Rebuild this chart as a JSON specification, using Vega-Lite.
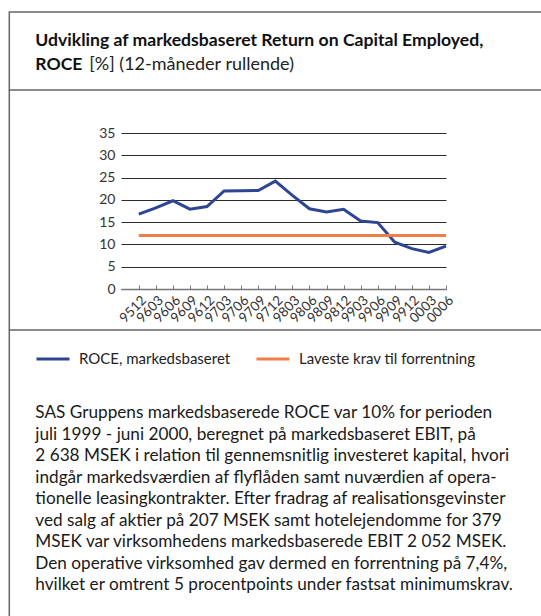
{
  "$schema": "https://vega.github.io/schema/vega-lite/v6.json",
  "padding": {"left": 8, "top": 11, "right": -18, "bottom": -5},
  "background": "white",
  "spacing": 0,
  "bounds": "flush",
  "center": true,
  "config": {
    "view": {"stroke": null},
    "font": "Lato"
  },
  "vconcat": [
    {
      "width": 548.4,
      "height": 78,
      "view": {"stroke": "#666666", "strokeWidth": 1.5},
      "layer": [
        {
          "data": {"values": [{"t": ["Udvikling af markedsbaseret Return on Capital Employed,", "ROCE"]}]},
          "mark": {"type": "text", "x": 26, "y": 34, "align": "left", "baseline": "alphabetic", "fontSize": 17.6, "fontWeight": "bold", "lineHeight": 24, "color": "#111111", "font": "Lato"},
          "encoding": {"text": {"field": "t"}}
        },
        {
          "data": {"values": [{"t": "[%] (12-måneder rullende)"}]},
          "mark": {"type": "text", "x": 80, "y": 58, "align": "left", "baseline": "alphabetic", "fontSize": 18, "color": "#222222", "font": "Lato"},
          "encoding": {"text": {"field": "t"}}
        }
      ]
    },
    {
      "width": 548.4,
      "height": 43,
      "data": {"values": []},
      "mark": {"type": "point", "opacity": 0},
      "encoding": {
        "y": {"datum": 0, "type": "quantitative", "axis": {"domain": true, "domainColor": "#666666", "domainWidth": 1.5, "labels": false, "ticks": false, "grid": false, "title": null, "translate": 0}}
      }
    },
    {
      "width": 325,
      "height": 156,
      "resolve": {"scale": {"y": "independent"}, "axis": {"y": "independent"}},
      "layer": [
        {
          "data": {"values": [
            {"period": "9512", "series": "ROCE, markedsbaseret", "value": 16.8},
            {"period": "9603", "series": "ROCE, markedsbaseret", "value": 18.2},
            {"period": "9606", "series": "ROCE, markedsbaseret", "value": 19.8},
            {"period": "9609", "series": "ROCE, markedsbaseret", "value": 17.9},
            {"period": "9612", "series": "ROCE, markedsbaseret", "value": 18.5},
            {"period": "9703", "series": "ROCE, markedsbaseret", "value": 22.0},
            {"period": "9706", "series": "ROCE, markedsbaseret", "value": 22.05},
            {"period": "9709", "series": "ROCE, markedsbaseret", "value": 22.1},
            {"period": "9712", "series": "ROCE, markedsbaseret", "value": 24.2},
            {"period": "9803", "series": "ROCE, markedsbaseret", "value": 21.0},
            {"period": "9806", "series": "ROCE, markedsbaseret", "value": 18.0},
            {"period": "9809", "series": "ROCE, markedsbaseret", "value": 17.3},
            {"period": "9812", "series": "ROCE, markedsbaseret", "value": 17.9},
            {"period": "9903", "series": "ROCE, markedsbaseret", "value": 15.25},
            {"period": "9906", "series": "ROCE, markedsbaseret", "value": 14.9},
            {"period": "9909", "series": "ROCE, markedsbaseret", "value": 10.5},
            {"period": "9912", "series": "ROCE, markedsbaseret", "value": 9.05},
            {"period": "0003", "series": "ROCE, markedsbaseret", "value": 8.2},
            {"period": "0006", "series": "ROCE, markedsbaseret", "value": 9.6},
            {"period": "9512", "series": "Laveste krav til forrentning", "value": 12},
            {"period": "9603", "series": "Laveste krav til forrentning", "value": 12},
            {"period": "9606", "series": "Laveste krav til forrentning", "value": 12},
            {"period": "9609", "series": "Laveste krav til forrentning", "value": 12},
            {"period": "9612", "series": "Laveste krav til forrentning", "value": 12},
            {"period": "9703", "series": "Laveste krav til forrentning", "value": 12},
            {"period": "9706", "series": "Laveste krav til forrentning", "value": 12},
            {"period": "9709", "series": "Laveste krav til forrentning", "value": 12},
            {"period": "9712", "series": "Laveste krav til forrentning", "value": 12},
            {"period": "9803", "series": "Laveste krav til forrentning", "value": 12},
            {"period": "9806", "series": "Laveste krav til forrentning", "value": 12},
            {"period": "9809", "series": "Laveste krav til forrentning", "value": 12},
            {"period": "9812", "series": "Laveste krav til forrentning", "value": 12},
            {"period": "9903", "series": "Laveste krav til forrentning", "value": 12},
            {"period": "9906", "series": "Laveste krav til forrentning", "value": 12},
            {"period": "9909", "series": "Laveste krav til forrentning", "value": 12},
            {"period": "9912", "series": "Laveste krav til forrentning", "value": 12},
            {"period": "0003", "series": "Laveste krav til forrentning", "value": 12},
            {"period": "0006", "series": "Laveste krav til forrentning", "value": 12}
          ]},
          "mark": {"type": "line", "strokeWidth": 3},
          "encoding": {
            "x": {
              "field": "period", "type": "ordinal", "sort": null,
              "scale": {"type": "point", "padding": 0.52, "align": 1},
              "axis": {"title": null, "labelAngle": -45, "labelAlign": "right", "labelBaseline": "top", "labelFontSize": 13.5, "labelColor": "#333333", "labelPadding": 8, "tickSize": -4, "tickColor": "#777777", "domainColor": "#777777", "domainWidth": 1.5, "grid": false, "labelOverlap": false, "labelBound": false, "labelFont": "Lato"}
            },
            "y": {
              "field": "value", "type": "quantitative",
              "scale": {"domain": [0, 35], "nice": false},
              "axis": {"orient": "left", "title": null, "values": [0, 5, 10, 15, 20, 25, 30, 35], "ticks": false, "domain": false, "labelPadding": 6, "labelFontSize": 14, "labelColor": "#333333", "grid": true, "gridColor": "#2a2a2a", "gridWidth": 1, "labelFont": "Lato"}
            },
            "color": {
              "field": "series", "type": "nominal",
              "scale": {"domain": ["ROCE, markedsbaseret", "Laveste krav til forrentning"], "range": ["#2e4594", "#ef7f45"]},
              "legend": {"orient": "none", "legendX": 26, "legendY": 329, "direction": "horizontal", "title": null, "symbolType": "stroke", "symbolSize": 1089, "symbolStrokeWidth": 3, "labelFontSize": 15, "labelColor": "#222222", "labelOffset": 8, "labelLimit": 400, "columnPadding": 19, "padding": 0, "labelFont": "Lato"}
            }
          }
        },
        {
          "data": {"values": []},
          "mark": {"type": "point", "opacity": 0},
          "encoding": {
            "y": {"datum": 0, "type": "quantitative", "axis": {"orient": "left", "offset": 111.7, "domain": true, "domainColor": "#666666", "domainWidth": 1.5, "labels": false, "ticks": false, "grid": false, "title": null, "translate": 0}}
          }
        }
      ]
    },
    {
      "width": 548.4,
      "height": 41,
      "data": {"values": []},
      "mark": {"type": "point", "opacity": 0},
      "encoding": {
        "y": {"datum": 0, "type": "quantitative", "axis": {"domain": true, "domainColor": "#666666", "domainWidth": 1.5, "labels": false, "ticks": false, "grid": false, "title": null, "translate": 0}}
      }
    },
    {
      "width": 548.4,
      "height": 290,
      "view": {"stroke": "#666666", "strokeWidth": 1.5},
      "data": {"values": [{"t": [
        "SAS Gruppens markedsbaserede ROCE var 10% for perioden",
        "juli 1999 - juni 2000, beregnet på markedsbaseret EBIT, på",
        "2 638 MSEK i relation til gennemsnitlig investeret kapital, hvori",
        "indgår markedsværdien af flyflåden samt nuværdien af opera-",
        "tionelle leasingkontrakter. Efter fradrag af realisationsgevinster",
        "ved salg af aktier på 207 MSEK samt hotelejendomme for 379",
        "MSEK var virksomhedens markedsbaserede EBIT 2 052 MSEK.",
        "Den operative virksomhed gav dermed en forrentning på 7,4%,",
        "hvilket er omtrent 5 procentpoints under fastsat minimumskrav."
      ]}]},
      "mark": {"type": "text", "x": 26, "y": 88, "align": "left", "baseline": "alphabetic", "lineHeight": 21.5, "fontSize": 17.2, "font": "Lato", "color": "#1a1a1a"},
      "encoding": {"text": {"field": "t"}}
    }
  ]
}
